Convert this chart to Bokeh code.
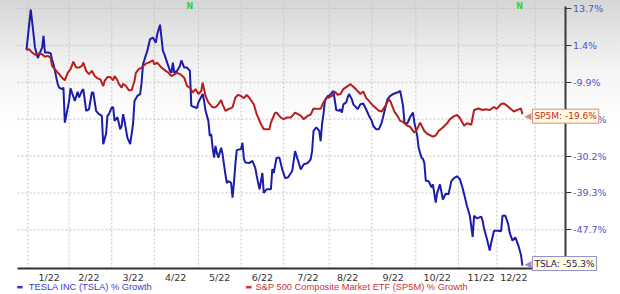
import numpy as np
import pandas as pd
from bokeh.plotting import figure
from bokeh.models import Range1d, FixedTicker, Label
from bokeh.embed import file_html
from bokeh.resources import INLINE

BASE = pd.Timestamp("2022-01-01")   # x values below are days since this date

# ---------------- data ----------------
tsla_day = [-1, 2, 4, 5, 7, 8, 10, 11, 12, 14,
            16, 17, 18, 19, 21, 22, 24, 25, 26, 29,
            30, 31, 33, 35, 36, 38, 39, 41, 43, 45,
            46, 48, 50, 52, 53, 55, 56, 57, 59, 60,
            61, 63, 65, 66, 67, 68, 70, 72, 74, 75,
            77, 79, 80, 81, 84, 86, 88, 90, 91, 93,
            94, 95, 96, 98, 100, 101, 102, 103, 105, 107,
            108, 110, 112, 114, 115, 117, 119, 120, 123, 124,
            125, 127, 128, 129, 130, 131, 132, 133, 134, 136,
            137, 138, 139, 140, 141, 143, 144, 145, 146, 147,
            150, 151, 152, 153, 156, 158, 160, 161, 163, 165,
            166, 168, 171, 172, 173, 175, 177, 179, 181, 183,
            186, 188, 190, 192, 194, 197, 199, 200, 201, 203,
            205, 206, 207, 208, 209, 211, 212, 214, 215, 217,
            219, 220, 221, 222, 224, 225, 226, 228, 229, 231,
            232, 234, 236, 238, 240, 242, 243, 245, 247, 249,
            251, 253, 255, 257, 260, 262, 264, 265, 267, 269,
            271, 272, 274, 275, 276, 277, 278, 279, 280, 282,
            284, 285, 287, 288, 290, 292, 294, 296, 298, 300,
            302, 304, 306, 307, 309, 311, 313, 314, 316, 319,
            320, 321, 323, 325, 326, 328, 331, 333, 334, 336,
            338, 339, 341, 343, 345, 347, 348]
tsla_pct = [0.0, 13.3, 5.1, 0.7, -2.5, -1.3, 0.7, 4.6, -0.8, -0.8,
            -1.0, -2.9, -4.4, -6.4, -10.4, -11.3, -11.7, -11.3, -20.6, -14.8,
            -11.5, -12.6, -14.8, -12.4, -13.9, -12.2, -11.7, -17.4, -17.0, -12.6,
            -12.6, -17.4, -18.3, -18.7, -26.8, -23.8, -18.7, -18.3, -16.5, -16.5,
            -20.1, -19.1, -22.5, -21.5, -18.3, -20.1, -24.9, -26.8, -21.0, -14.8,
            -13.5, -13.0, -10.0, -4.4, -0.3, 3.5, 4.0, 2.3, 5.1, 8.3,
            4.0, -0.3, -1.3, -3.9, -6.4, -7.0, -3.9, -7.0, -6.4, -4.9,
            -3.2, -5.4, -5.4, -6.4, -16.1, -16.4, -16.7, -15.2, -13.0, -14.8,
            -17.4, -20.1, -24.4, -23.9, -27.8, -30.6, -27.3, -29.3, -30.6, -27.8,
            -29.7, -32.3, -34.7, -36.9, -36.4, -36.8, -40.4, -36.8, -32.2, -28.5,
            -28.2, -26.4, -30.9, -31.8, -31.9, -31.4, -33.1, -35.1, -38.4, -34.4,
            -39.3, -38.4, -38.4, -33.4, -34.4, -30.6, -30.6, -33.5, -35.6, -35.5,
            -33.9, -28.8, -31.2, -33.5, -32.3, -31.9, -31.0, -28.8, -23.0, -22.0,
            -23.0, -25.9, -21.0, -18.3, -14.8, -13.5, -13.5, -12.6, -12.2, -17.2,
            -17.4, -17.0, -17.9, -15.7, -15.2, -13.9, -13.0, -14.4, -15.7, -16.5,
            -17.0, -15.7, -15.5, -17.0, -18.7, -20.1, -21.5, -22.5, -22.5, -20.6,
            -17.4, -14.4, -13.5, -13.0, -12.6, -12.2, -16.1, -20.6, -20.9, -19.0,
            -17.9, -20.6, -24.4, -27.9, -29.3, -30.6, -30.9, -31.9, -36.3, -36.4,
            -37.9, -37.2, -41.5, -39.3, -37.2, -40.8, -39.5, -39.6, -36.4, -35.6,
            -35.2, -35.9, -38.2, -39.6, -42.3, -44.5, -49.2, -44.5, -45.1, -44.7,
            -45.6, -47.4, -49.6, -52.1, -50.5, -47.9, -47.9, -48.0, -44.5, -44.5,
            -46.4, -48.3, -50.0, -49.3, -50.9, -53.0, -55.3]

sp5m_day = [-1, 1, 3, 5, 8, 10, 12, 14, 16, 17,
            19, 21, 22, 24, 26, 28, 30, 32, 34, 36,
            38, 39, 41, 43, 45, 47, 49, 51, 53, 54,
            56, 58, 60, 61, 63, 64, 66, 67, 69, 71,
            73, 75, 76, 78, 80, 83, 85, 88, 89, 91,
            94, 97, 99, 101, 105, 107, 110, 112, 114, 116,
            118, 120, 122, 123, 125, 127, 130, 132, 134, 136,
            137, 139, 141, 144, 146, 148, 150, 152, 154, 156,
            159, 161, 164, 166, 170, 171, 174, 175, 178, 180,
            182, 185, 188, 192, 194, 197, 199, 201, 204, 206,
            208, 210, 212, 214, 216, 218, 220, 222, 225, 227,
            229, 232, 234, 236, 238, 240, 243, 247, 249, 252,
            254, 255, 258, 260, 262, 264, 267, 269, 272, 274,
            276, 279, 281, 285, 287, 289, 292, 295, 297, 300,
            302, 304, 307, 309, 312, 314, 317, 320, 322, 325,
            328, 330, 333, 335, 337, 340, 342, 345, 347, 348]
sp5m_pct = [0.0, 0.2, -0.8, -1.5, -1.1, -1.3, -2.1, -1.8, -2.4, -4.9,
            -5.9, -7.0, -7.4, -8.5, -9.3, -7.0, -5.9, -3.6, -5.4, -5.4,
            -4.9, -3.9, -6.4, -7.4, -6.4, -8.0, -8.7, -9.0, -10.9, -9.5,
            -8.3, -8.3, -9.3, -8.0, -9.3, -10.3, -11.3, -10.3, -10.9, -12.0,
            -12.0, -9.5, -7.0, -5.9, -5.4, -4.2, -3.9, -3.2, -4.4, -3.9,
            -5.4, -6.4, -7.0, -8.0, -7.0, -7.4, -8.5, -10.9, -11.3, -12.6,
            -11.7, -13.0, -12.2, -10.0, -13.5, -15.2, -16.5, -16.5, -15.7, -14.6,
            -15.7, -17.4, -17.0, -16.5, -13.9, -13.2, -13.5, -14.1, -13.2, -14.1,
            -15.7, -18.3, -21.0, -22.5, -22.5, -20.6, -17.9, -17.9, -19.2, -19.6,
            -19.2, -19.2, -17.9, -18.7, -19.6, -18.7, -18.4, -16.8, -16.9, -16.9,
            -15.2, -14.0, -13.9, -13.5, -12.4, -13.2, -13.0, -11.7, -10.9, -10.4,
            -11.1, -12.2, -13.0, -12.3, -14.0, -14.8, -16.1, -17.4, -17.6, -15.8,
            -14.4, -14.8, -17.7, -18.7, -20.1, -20.4, -21.5, -21.8, -23.5, -22.4,
            -20.6, -23.0, -23.8, -24.6, -24.3, -23.0, -22.0, -20.8, -19.6, -18.8,
            -18.5, -19.3, -21.5, -20.8, -21.2, -17.2, -16.8, -17.2, -17.0, -17.2,
            -16.4, -16.9, -15.6, -15.5, -16.0, -17.0, -17.6, -17.1, -16.8, -18.3]

# right-axis labels (evenly spaced gridlines, top -> bottom)
axis_pct = [13.7, 1.4, -9.9, -19.6, -30.2, -39.3, -47.7]
axis_labels = ["13.7%", "1.4%", "-9.9%", "-19.6%", "-30.2%", "-39.3%", "-47.7%"]
axis_bottom_pct = -55.3          # value sitting just above the bottom edge of the scale

month_label_day = [15, 43, 74, 104, 135, 165, 197, 225, 257, 288, 319, 342]
month_labels = ["1/22", "2/22", "3/22", "4/22", "5/22", "6/22",
                "7/22", "8/22", "9/22", "10/22", "11/22", "12/22"]
grid_day = [0, 29, 59, 89, 120, 150, 180, 212, 242, 273, 303, 330, 357]
news_day = [114, 346]

tsla_name = "TESLA INC (TSLA) % Growth"
sp5m_name = "S&P 500 Composite Market ETF (SP5M) % Growth"
tsla_callout = "TSLA: -55.3%"
sp5m_callout = "SP5M: -19.6%"

# ---------------- layout constants (pixels) ----------------
W, H = 620, 294
DAY0_PX, PX_PER_DAY = 27.4, 1.421      # x pixel of day 0 and pixels per day
TOP_STEP_PX, PX_PER_STEP = 8.0, 36.88  # y pixel of the top gridline, gridline spacing
N_STEPS = len(axis_pct) - 1
PLOT_L, PLOT_R, PLOT_T, PLOT_B = 17, 564.5, 6, 268

def px_to_day(x):
    return (x - DAY0_PX) / PX_PER_DAY

def px_to_step(y):
    return N_STEPS - (y - TOP_STEP_PX) / PX_PER_STEP

def day_ms(days):
    idx = BASE + pd.to_timedelta(np.asarray(days, dtype=float), unit="D")
    return idx.asi8 / 1e6

# the chart's value axis is not linear: gridlines are evenly spaced,
# so values are mapped piecewise-linearly onto gridline steps
scale_pct = [axis_bottom_pct] + axis_pct[::-1]
scale_pos = [-0.97] + list(range(len(axis_pct)))
def axis_pos(v):
    return np.interp(np.asarray(v, dtype=float), scale_pct, scale_pos)

BLUE = "#1c1cab"
RED = "#b81e1e"
FONT = "DejaVu Sans"
GRID = "#c4c4c4"

xr = day_ms([px_to_day(0), px_to_day(W)])
p = figure(width=W, height=H, x_axis_type="datetime", y_axis_location="right",
           x_range=Range1d(xr[0], xr[1]), y_range=Range1d(px_to_step(H), px_to_step(0)),
           output_backend="svg", toolbar_location=None, min_border=0)
p.background_fill_color = None
p.border_fill_color = None
p.outline_line_color = None
p.grid.visible = False
p.styles = {"background": "linear-gradient(180deg, #d6d6d6 0px, #f4f4f4 70px, #ffffff 125px)"}

x_left, x_right = day_ms([px_to_day(PLOT_L), px_to_day(PLOT_R)])
y_bottom, y_top = px_to_step(PLOT_B), px_to_step(PLOT_T)
tick_pos = [float(v) for v in axis_pos(axis_pct)]
grid_ms = [float(v) for v in day_ms(grid_day)]

# dotted gridlines (stop at the axes)
p.segment(x0=[x_left] * len(tick_pos), x1=[x_right] * len(tick_pos), y0=tick_pos, y1=tick_pos,
          line_color=GRID, line_dash="2 2", line_width=1)
p.segment(x0=grid_ms, x1=grid_ms, y0=[y_bottom] * len(grid_ms), y1=[px_to_step(0)] * len(grid_ms),
          line_color=GRID, line_dash="2 2", line_width=1)

p.line(day_ms(tsla_day), axis_pos(tsla_pct), line_color=BLUE, line_width=2)
p.line(day_ms(sp5m_day), axis_pos(sp5m_pct), line_color=RED, line_width=2)

# right axis, drawn at its place inside the canvas
ya = p.yaxis[0]
ya.fixed_location = float(x_right)
ya.bounds = (float(y_bottom), float(y_top))
ya.ticker = FixedTicker(ticks=tick_pos)
ya.major_label_overrides = {t: lab for t, lab in zip(tick_pos, axis_labels)}
ya.axis_line_color = "#3a3a3a"
ya.axis_line_width = 2
ya.major_tick_line_color = "#3a3a3a"
ya.major_tick_line_width = 1
ya.major_tick_in = 0
ya.major_tick_out = 6
ya.minor_tick_line_color = None
ya.major_label_standoff = 2
ya.major_label_text_font = FONT
ya.major_label_text_font_size = "9.5px"
ya.major_label_text_color = "#5252c8"

# bottom axis
xt = [float(v) for v in day_ms(month_label_day)]
xa = p.xaxis[0]
xa.fixed_location = float(y_bottom)
xa.bounds = (float(x_left), float(x_right))
xa.ticker = FixedTicker(ticks=xt)
xa.major_label_overrides = {t: lab for t, lab in zip(xt, month_labels)}
xa.axis_line_color = "#333333"
xa.axis_line_width = 2
xa.major_tick_line_color = None
xa.major_tick_in = 0
xa.major_tick_out = 0
xa.minor_tick_line_color = None
xa.major_label_standoff = 3
xa.major_label_text_font = FONT
xa.major_label_text_font_size = "9.5px"
xa.major_label_text_color = "#333333"

# news markers
for d in day_ms(news_day):
    p.add_layout(Label(x=float(d), y=H - 6, y_units="screen", text="N",
                       text_align="center", text_baseline="middle",
                       text_font=FONT, text_font_style="bold",
                       text_font_size="8px", text_color="#33d133"))

# end-of-series callouts
for days, vals, txt, tcol, bcol, yoff in (
        (sp5m_day, sp5m_pct, sp5m_callout, "#cc2a2a", "#d98a8a", -2),
        (tsla_day, tsla_pct, tsla_callout, "#23236e", "#8f8fc4", 2)):
    lx = float(day_ms([days[-1]])[0])
    ly = float(axis_pos(vals[-1]))
    p.add_layout(Label(x=lx, y=ly, x_offset=2, y_offset=yoff, text="\u25C0",
                       text_font=FONT, text_font_size="9px", text_color=bcol,
                       text_baseline="middle", text_align="left"))
    p.add_layout(Label(x=lx, y=ly, x_offset=10, y_offset=yoff, text=txt,
                       text_font=FONT, text_font_size="9px", text_color=tcol,
                       text_baseline="middle", text_align="left",
                       background_fill_color="#fffbdc", border_line_color=bcol,
                       border_line_width=1, padding=2))

# legend row at the bottom
for dx, tx, name, col in ((16, 28.3, tsla_name, "#3a3acb"),
                          (245, 255, sp5m_name, "#c83434")):
    p.add_layout(Label(x=dx, y=H - 286.7, x_units="screen", y_units="screen", text="\u25AC",
                       text_font=FONT, text_font_size="7px", text_color=col,
                       text_baseline="middle"))
    p.add_layout(Label(x=tx, y=H - 286.7, x_units="screen", y_units="screen", text=name,
                       text_font="Liberation Sans", text_font_size="9.3px", text_color=col,
                       text_baseline="middle"))

open("out.html", "w").write(file_html(p, INLINE))
